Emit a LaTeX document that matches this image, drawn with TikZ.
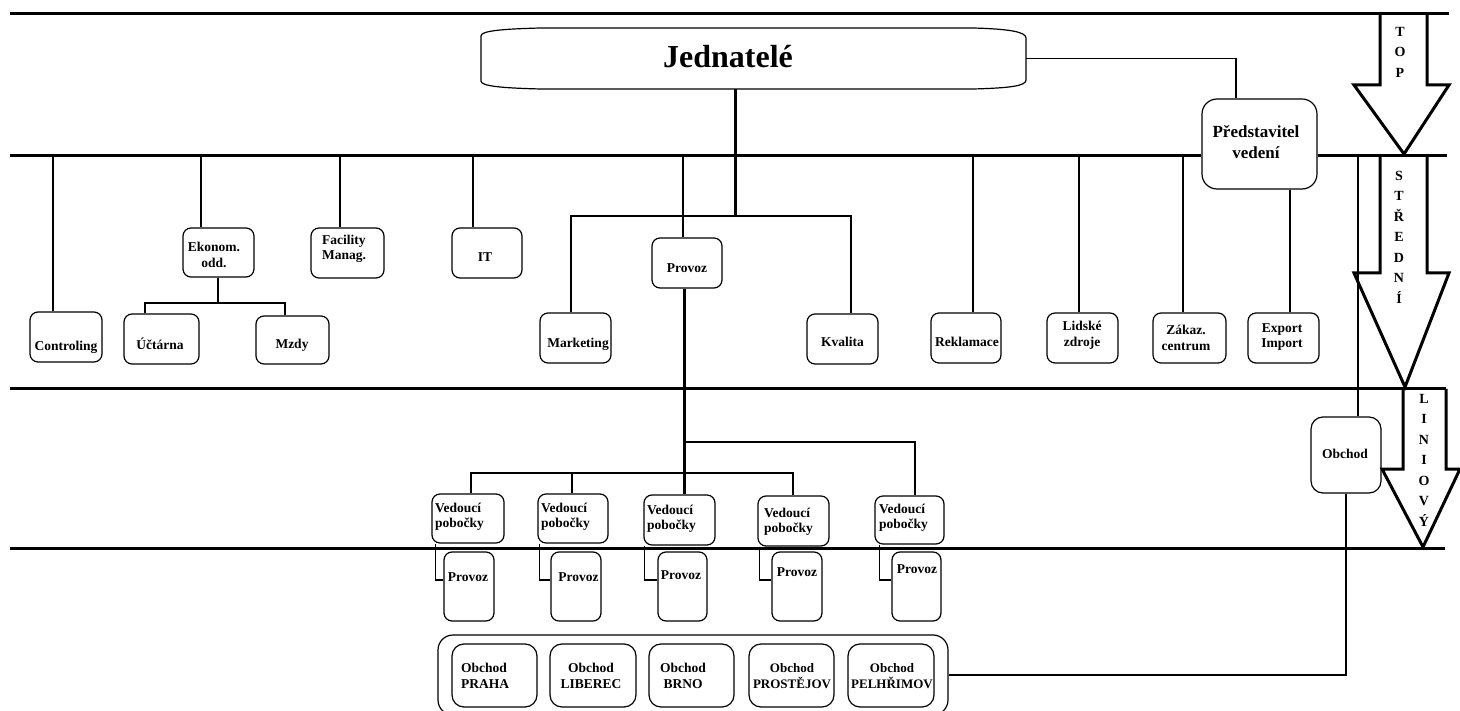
\documentclass[tikz,border=0pt]{standalone}
\usepackage{fontspec}
\setmainfont{Liberation Serif}
\begin{document}
\begin{tikzpicture}[x=1pt,y=-1pt,
  hline/.style={line width=3pt},
  conn/.style={line width=1.2pt},
  thk/.style={line width=3pt},
  arrowshape/.style={line width=3pt, line join=miter},
  bx/.style n args={2}{draw, line width=1.2pt, rounded corners=8pt, fill=white, inner sep=0pt, minimum width=#1pt, minimum height=#2pt},
  lbl/.style={font=\fontsize{13.5}{15.5}\selectfont\bfseries, inner sep=0pt, align=center},
  lbll/.style={lbl, align=left},
  stack/.style={font=\fontsize{14}{20.5}\selectfont\bfseries, inner sep=0pt, align=center}]
\useasboundingbox (0,0) rectangle (1460,711);

% ---------- level lines ----------
\coordinate (L1a) at (10,14);  \coordinate (L1b) at (1449,14);
\coordinate (L2a) at (10,156); \coordinate (L2b) at (1447,156);
\coordinate (L3a) at (10,389); \coordinate (L3b) at (1446,389);
\coordinate (L4a) at (10,548); \coordinate (L4b) at (1445,548);

% ---------- boxes ----------
\node[draw=none, minimum width=545pt, minimum height=61pt, inner sep=0pt] (J) at (753.5,58.5) {};
\node[bx={115}{90}, rounded corners=15pt] (Pred) at (1259.5,144) {};
\node[bx={72}{50}] (Ctrl) at (66,337) {};
\node[bx={71}{49}] (Ek) at (218.5,252.5) {};
\node[bx={73}{50}] (Fac) at (347.5,253) {};
\node[bx={70}{50}] (IT) at (487,253) {};
\node[bx={70}{50}] (Prov) at (687,263) {};
\node[bx={75}{50}] (Uct) at (161.5,339) {};
\node[bx={73}{48}] (Mzdy) at (292.5,340) {};
\node[bx={71}{50}] (Mkt) at (575.5,338) {};
\node[bx={71}{50}] (Kva) at (842.5,339) {};
\node[bx={70}{50}] (Rek) at (966,338) {};
\node[bx={71}{50}] (Lid) at (1082.5,338) {};
\node[bx={73}{50}] (Zak) at (1189.5,338) {};
\node[bx={71}{50}] (Exp) at (1283.5,338) {};
\node[bx={70}{76}, rounded corners=12pt] (Obch) at (1346,455) {};

\node[bx={72}{49}] (V1) at (468,518.5) {};
\node[bx={70}{49}] (V2) at (573,518.5) {};
\node[bx={71}{50}] (V3) at (679.5,520) {};
\node[bx={71}{50}] (V4) at (793.5,521) {};
\node[bx={69}{48}] (V5) at (909.5,520) {};

\node[bx={50}{69}] (P1) at (469,586.5) {};
\node[bx={50}{69}] (P2) at (576,586.5) {};
\node[bx={49}{69}] (P3) at (682.5,586.5) {};
\node[bx={50}{69}] (P4) at (797,586.5) {};
\node[bx={49}{69}] (P5) at (916.5,586.5) {};

\node[bx={510}{80}, rounded corners=15pt] (Cont) at (693,675) {};
\node[bx={85}{63}, rounded corners=12pt] (O1) at (494.5,675.5) {};
\node[bx={86}{63}, rounded corners=12pt] (O2) at (593,675.5) {};
\node[bx={85}{63}, rounded corners=12pt] (O3) at (691.5,675.5) {};
\node[bx={85}{63}, rounded corners=12pt] (O4) at (791.5,675.5) {};
\node[bx={86}{63}, rounded corners=12pt] (O5) at (891,675.5) {};

% Jednatele outline
\draw[conn] (541,28) -- (973,28) .. controls (1010,29) and (1026,32) .. (1026,38) -- (1026,80)
  .. controls (1026,86) and (1010,88) .. (973,89) -- (541,89)
  .. controls (500,88) and (481,86) .. (481,81) -- (481,36)
  .. controls (481,31) and (500,29) .. (541,28) -- cycle;

% ---------- horizontal level lines ----------
\draw[hline] (L1a) -- (L1b);
\draw[hline] (L2a) -- (L2a -| Pred.west);
\draw[hline] (L2a -| Pred.east) -- (L2b);
\draw[hline] (L3a) -- (L3b);
\draw[hline] (L4a) -- (L4b);

% ---------- arrows on the right ----------
\draw[arrowshape] (1380,14) -- (1380,85) -- (1354,85) -- (1404,154) -- (1449,85) -- (1427,85) -- (1427,14);
\draw[arrowshape] (1380,156) -- (1380,273) -- (1354,273) -- (1405,387) -- (1449,273) -- (1427,273) -- (1427,156);
\draw[arrowshape] (1403,389) -- (1403,469) -- (1382,469) -- (1423,547) -- (1460,469) -- (1446,469) -- (L3b);
\node[stack] (TopT) at (1400,52) {T\\O\\P};
\node[stack] (StrT) at (1399,237) {S\\T\\Ř\\E\\D\\N\\Í};
\node[stack] (LinT) at (1424,460) {L\\I\\N\\I\\O\\V\\Ý};

% ---------- connectors ----------
\coordinate (jA) at (735,216);
\draw[thk] (J.south -| jA) -- (jA);
\coordinate (mk) at (571,216);
\coordinate (kv) at (851,216);
\draw[conn] (Mkt.north -| mk) -- (mk) -- (kv) -- (Kva.north -| kv);

\coordinate (dCtrl) at (53,156);
\coordinate (dEk) at (201,156);
\coordinate (dFac) at (340,156);
\coordinate (dIT) at (473,156);
\coordinate (dProv) at (683,156);
\coordinate (dRek) at (973,156);
\coordinate (dLid) at (1079,156);
\coordinate (dZak) at (1183,156);
\coordinate (dObch) at (1358,156);
\draw[conn] (dCtrl) -- (dCtrl |- Ctrl.north);
\draw[conn] (dEk) -- (dEk |- Ek.north);
\draw[conn] (dFac) -- (dFac |- Fac.north);
\draw[conn] (dIT) -- (dIT |- IT.north);
\draw[conn] (dProv) -- (dProv |- Prov.north);
\draw[conn] (dRek) -- (dRek |- Rek.north);
\draw[conn] (dLid) -- (dLid |- Lid.north);
\draw[conn] (dZak) -- (dZak |- Zak.north);
\draw[conn] (dObch) -- (dObch |- Obch.north);

\coordinate (ek) at (218,303);
\draw[conn] (Ek.south -| ek) -- (ek);
\draw[conn] ([xshift=-16.5pt]Uct.north) |- (ek) -| ([xshift=-7.5pt]Mzdy.north);

\draw[conn] (J.east) -| ([xshift=-23.5pt]Pred.north);
\coordinate (dExp) at (1290,189);
\draw[conn] (Pred.south -| dExp) -- (dExp |- Exp.north);

\coordinate (pv) at (684,442);
\draw[thk] (Prov.south -| pv) -- (pv |- V3.north);
\coordinate (pv5) at (915,442);
\draw[conn] (pv) -- (pv5) -- (pv5 |- V5.north);
\coordinate (hv1) at (471,473);
\coordinate (hv4) at (793,473);
\draw[conn] (hv1 |- V1.north) -- (hv1) -- (hv4) -- (hv4 |- V4.north);
\draw[conn] (V2.north -| 572,0) -- (572,473);

\draw[conn] ([xshift=4pt]V1.south west) |- ([yshift=6.5pt]P1.west);
\draw[conn] ([xshift=2pt]V2.south west) |- ([yshift=6.5pt]P2.west);
\draw[conn] ([xshift=1pt]V3.south west) |- ([yshift=6.5pt]P3.west);
\draw[conn] ([xshift=2pt]V4.south west) |- ([yshift=6.5pt]P4.west);
\draw[conn] ([xshift=5pt]V5.south west) |- ([yshift=6.5pt]P5.west);

\draw[conn] (Obch.south) |- (Cont.east);

% ---------- texts ----------
\node[lbl, font=\fontsize{32}{36}\selectfont\bfseries] (JT) at (728,57) {Jednatelé};
\node[lbl, font=\fontsize{17}{21}\selectfont\bfseries] (PredT) at (1256,142) {Představitel\\vedení};
\node[lbl] (CtrlT) at (66,347) {Controling};
\node[lbl] (EkT) at (214,255) {Ekonom.\\odd.};
\node[lbll, anchor=west] (FacT) at (322,249) {Facility\\Manag.};
\node[lbl] (ITT) at (485,257) {IT};
\node[lbl] (ProvT) at (687,268) {Provoz};
\node[lbl] (UctT) at (160,344) {Účtárna};
\node[lbl] (MzdyT) at (292,345) {Mzdy};
\node[lbl] (MktT) at (578,344) {Marketing};
\node[lbl] (KvaT) at (842.5,342) {Kvalita};
\node[lbl] (RekT) at (967,342) {Reklamace};
\node[lbl] (LidT) at (1082,335) {Lidské\\zdroje};
\node[lbl] (ZakT) at (1186,338) {Zákaz.\\centrum};
\node[lbl] (ExpT) at (1282,337) {Export\\Import};
\node[lbl] (ObchT) at (1345,454) {Obchod};

\node[lbll, anchor=west] (V1T) at (435,517) {Vedoucí\\pobočky};
\node[lbll, anchor=west] (V2T) at (541,517) {Vedoucí\\pobočky};
\node[lbll, anchor=west] (V3T) at (647,519) {Vedoucí\\pobočky};
\node[lbll, anchor=west] (V4T) at (764,522) {Vedoucí\\pobočky};
\node[lbll, anchor=west] (V5T) at (879,518) {Vedoucí\\pobočky};

\node[lbl] (P1T) at (468,577) {Provoz};
\node[lbl] (P2T) at (578.5,577) {Provoz};
\node[lbl] (P3T) at (681,575) {Provoz};
\node[lbl] (P4T) at (797,572) {Provoz};
\node[lbl] (P5T) at (917,569) {Provoz};

\node[lbll, anchor=west] (O1T) at (461,676) {Obchod\\PRAHA};
\node[lbl] (O2T) at (591,676) {Obchod\\LIBEREC};
\node[lbl] (O3T) at (683,676) {Obchod\\BRNO};
\node[lbl, font=\fontsize{13}{15.5}\selectfont\bfseries] (O4T) at (792,676) {Obchod\\PROSTĚJOV};
\node[lbl, font=\fontsize{13}{15.5}\selectfont\bfseries] (O5T) at (892,676) {Obchod\\PELHŘIMOV};
\end{tikzpicture}
\end{document}
